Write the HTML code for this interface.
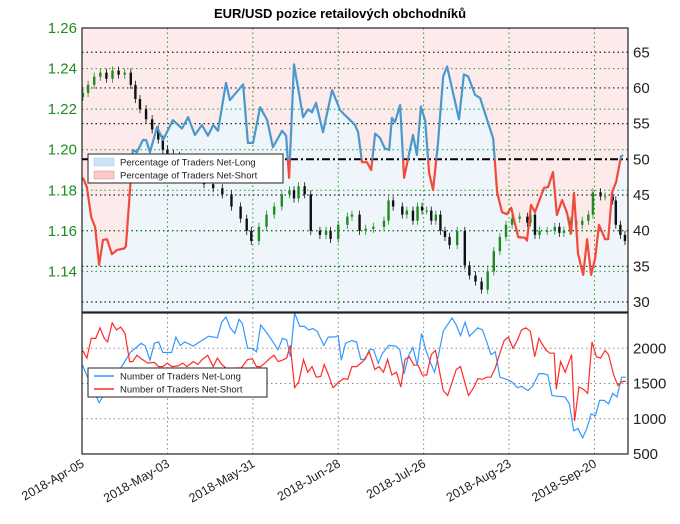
<!DOCTYPE html>
<html><head><meta charset="utf-8"><style>
body{margin:0;background:#fff;}
svg text{font-family:"Liberation Sans","DejaVu Sans",sans-serif;}
</style></head><body>
<svg id="c" width="680" height="519" viewBox="0 0 680 519"></svg>
<script>
// ---- data ----
const pctDays=[0.3,1.6,3,4.3,5.6,6.9,8.2,9.8,11.5,13.8,14.4,16.7,18,20,21,22.3,24.6,26.6,29.8,32.8,34.8,37,39.3,41.3,43,44.6,47.2,48.5,52.8,54.4,56.1,58.4,60.7,62.6,65.6,66.9,67.9,69.5,72.5,74.1,75.4,76.7,79,82,84.6,86.2,87.9,89.5,90.5,91.8,93.4,94.8,96.1,97.7,99.3,100.7,101.6,102.6,104.3,105.6,108.5,109.8,111.1,112.5,113.8,115.1,116.7,118.4,119.7,123.6,125.2,126.6,128.9,130.5,134.8,136.1,137.7,139.3,140.7,143,145.2,145.9,147.2,148.5,151.5,152.8,154.4,155.7,157.4,159,160.3,161.3,162.6,164.3,165.6,166.9,168.2,169.5,171.5,172.5,173.8,175.1,176.7,177.4];
const pctLong=[47.4,46.1,41.9,40.5,35.2,38.7,38.8,36.7,37.3,37.5,37.8,51.3,51,52.7,52.7,51,54.5,52.7,55.5,54.3,55.9,53.4,54.8,53.3,54.8,54,60.7,58.3,60.5,52.3,52.3,57.3,55.5,51.7,54,53.3,47.4,63.3,55.9,57,56.6,57.9,53.8,59.7,56.9,56.2,55.5,54.8,53.8,49.6,49.6,48.5,53.6,53,51.5,51.3,55.8,55.2,57.6,47.4,53.4,50.6,57.4,55.4,48.1,45.7,52.3,61.6,63,55.6,61.9,61.6,59,58.6,52.9,45.4,42.6,42.3,43.2,39.1,39,38.6,43.6,42.6,46,46.1,48.2,42.2,44.3,42.5,39.6,45.3,36.8,33.8,38.8,33.8,36.1,40.8,38.8,38.8,45.4,46.8,50.4,50.6];
const priceDays=[0.3,2,4,6,8,10,12,14,16,17.5,19,21,23,25,26.5,28,30,32,34,37,40,43,46,49,52,54,55.5,58,60.5,63,65.5,68,69.5,71,73,75,78,80,81.5,84,87,88.5,91,93,95.5,99,100.5,102,105,106.5,108.5,110,111.5,113,114.5,116,117.5,119,120.5,123,125.5,127,129,131,133,135,137,139,141,143.5,146,147,148.5,150,152.5,155,156.5,158,160,162,164,166,167.5,170,171.5,174,175,176.5,178];
const priceClose=[1.228,1.232,1.236,1.238,1.235,1.239,1.237,1.238,1.232,1.225,1.220,1.215,1.210,1.205,1.200,1.198,1.197,1.195,1.192,1.188,1.183,1.181,1.178,1.172,1.166,1.160,1.155,1.162,1.168,1.172,1.178,1.180,1.176,1.182,1.178,1.160,1.158,1.160,1.156,1.163,1.167,1.168,1.160,1.161,1.162,1.165,1.175,1.172,1.168,1.170,1.165,1.172,1.170,1.170,1.165,1.168,1.160,1.157,1.153,1.160,1.143,1.138,1.135,1.131,1.140,1.150,1.157,1.163,1.166,1.167,1.164,1.168,1.158,1.160,1.160,1.162,1.159,1.160,1.165,1.163,1.165,1.168,1.179,1.177,1.177,1.175,1.163,1.158,1.155];
const longDays=[0.2,1.6,5.6,15.9,19.4,20.8,22.3,23.7,25.1,26.5,29.4,30.8,32.2,33.7,36.5,38.6,41.5,44.4,45.8,47.2,48.6,50.1,51.5,52.6,54.3,55.8,57.2,58.6,60.7,62.9,64.3,65.7,67.1,68.3,69.7,71.4,72.9,74.3,75.7,77.1,79.3,80.7,82.8,84,85,86.4,88.5,90,91.4,92.8,94.2,95.6,97.1,98.5,100.6,102.8,104.2,105.6,107.1,108.5,109.9,111.3,112.7,114.2,115.6,117,118.4,121.3,122.7,124.1,125.6,127,129.8,131.3,132.7,134.1,135.5,137,138.4,139.8,141.3,142.7,144.1,146.2,147.7,149.8,151.2,152.7,154.1,155.5,158.4,159.8,161.2,162.6,164.1,165.5,166.9,168.3,169.7,171.2,172.6,174,175.4,176.9,178.3];
const longCount=[1757,1614,1229,1943,2070,2030,1830,2070,2090,1940,1940,2160,2040,2090,2030,2090,2170,2150,2370,2443,2290,2210,2410,2350,2000,2000,1950,2330,2210,2070,1980,2140,2120,1880,2500,2310,2310,2260,2280,2240,2040,2160,2160,2180,1830,2070,2110,2090,1840,1840,1980,1980,1786,1930,2040,2030,1980,1640,1900,2010,1757,2210,1980,1800,1660,1930,2240,2430,2330,2180,2370,2170,2290,2260,2090,1910,1950,1590,1570,1550,1510,1440,1460,1400,1460,1640,1640,1620,1330,1320,1310,1210,830,860,730,860,1070,1040,1260,1260,1210,1360,1310,1590,1590];
const shortDays=[0.2,1.6,3,4.5,5.9,7.3,8.4,9.9,11.3,12.7,14.1,15.6,16.6,18,19.4,21.6,23.7,25.1,26.5,28,29.4,31.5,33,34.4,36.5,38,39.4,41.2,43,44.4,45.8,47.2,48.6,50.1,52.2,54.3,55.8,57.2,58.6,60,61.4,62.9,64.3,65.7,67.1,68.3,69.7,71.1,72.6,74,75.4,76.8,78.3,79.4,80.8,82.3,83.7,85.7,87.1,88.5,90,92.1,94.2,96,97.4,98.8,100.2,101.6,103.1,104.5,105.9,107.3,108.8,110.2,111.6,113,114.5,115.9,118.4,119.9,122.7,124.1,125.6,126.7,128.4,129.8,131.3,132.7,134.1,135.5,137,138.4,139.8,141.3,142.7,144.1,145.5,147,148.4,149.8,152,153.4,154.8,155.5,156.9,158.4,160.5,161.5,162.9,164.3,165.8,167.2,168.6,170,171.5,172.6,174.3,175.7,177.2,178.3];
const shortCount=[1970,1860,2140,2140,2290,2140,2090,2360,2260,2300,2210,1810,1810,1900,1850,1790,1800,1740,1740,1790,1740,1750,1790,1740,1810,1770,1840,1900,1740,1860,1770,1720,1700,1720,1720,1840,1850,1740,1740,1790,1850,1900,1810,1830,1860,2040,1440,1530,1840,1660,1740,1590,1600,1770,1620,1440,1500,1570,1560,1740,1740,1810,1950,1700,1740,1660,1840,1620,1660,1450,1840,1880,1760,1760,1620,1620,1910,1970,1400,1330,1700,1740,1500,1330,1440,1570,1560,1590,1590,1720,1930,2110,2160,2000,2110,2260,2290,2240,1880,2140,1980,1930,1930,1420,1810,1660,1910,970,1450,1420,1360,2090,1880,1860,1970,1910,1620,1470,1530,1530];
const dateLabels=["2018-Apr-05","2018-May-03","2018-May-31","2018-Jun-28","2018-Jul-26","2018-Aug-23","2018-Sep-20"];
const dateTickDays=[0,28,56,84,112,140,168];
const priceTicks=[1.14,1.16,1.18,1.20,1.22,1.24,1.26];
const pctTicks=[30,35,40,45,50,55,60,65];
const countTicks=[500,1000,1500,2000];

// ---- layout ----
const L=82,R=628,T1=28,B1=312,T2=313,B2=454;
const X=d=>L+(d/179)*(R-L);
const YP=p=>T1+(1.26-p)/(1.26-1.12)*(B1-T1);
const YQ=v=>T1+(68.4-v)/(68.4-28.6)*(B1-T1);
const YC=v=>T2+(2500-v)/(2500-500)*(B2-T2);
const NS="http://www.w3.org/2000/svg";
const svg=document.getElementById('c');
function mk(tag,attrs,parent){const e=document.createElementNS(NS,tag);for(const k in attrs)e.setAttribute(k,attrs[k]);(parent||svg).appendChild(e);return e;}
function pts(xs,ys,fx,fy){return xs.map((d,i)=>fx(d).toFixed(1)+','+fy(ys[i]).toFixed(1)).join(' ');}

const defs=mk('defs',{});
const c1=mk('clipPath',{id:'top'},defs);mk('rect',{x:L,y:T1,width:R-L,height:B1-T1},c1);
const c2=mk('clipPath',{id:'above'},defs);mk('rect',{x:L,y:T1,width:R-L,height:YQ(50)-T1},c2);
const c3=mk('clipPath',{id:'below'},defs);mk('rect',{x:L,y:YQ(50),width:R-L,height:B1-YQ(50)},c3);
const c4=mk('clipPath',{id:'bot'},defs);mk('rect',{x:L,y:T2,width:R-L,height:B2-T2},c4);

let t=mk('text',{x:340,y:18,'text-anchor':'middle','font-size':13,'font-weight':'bold',fill:'#000'});t.textContent='EUR/USD pozice retailových obchodníků';



// fills
const lp=pts(pctDays,pctLong,X,YQ);
let g=mk('g',{'clip-path':'url(#top)'});


mk('rect',{x:L,y:T1,width:R-L,height:B1-T1,fill:'#fdeaea'},g);
mk('polygon',{points:L+','+B1+' '+L+','+YQ(pctLong[0])+' '+lp+' '+R+','+YQ(pctLong[pctLong.length-1])+' '+R+','+B1,fill:'#eef5fb'},g);

// grids
const gg=mk('g',{});


pctTicks.forEach(v=>{if(v!==50)mk('line',{x1:L,x2:R,y1:YQ(v),y2:YQ(v),stroke:'#222','stroke-width':1.2,'stroke-dasharray':'1.5,3'},gg);});
priceTicks.forEach(v=>{mk('line',{x1:L,x2:R,y1:YP(v),y2:YP(v),stroke:'#2a9a2a','stroke-width':1,'stroke-dasharray':'1.5,3'},gg);});
dateTickDays.forEach(d=>{mk('line',{x1:X(d),x2:X(d),y1:T1,y2:B1,stroke:'#2a9a2a','stroke-width':1,'stroke-dasharray':'1.5,3'},gg);
 mk('line',{x1:X(d),x2:X(d),y1:T2,y2:B2,stroke:'#888','stroke-width':1,'stroke-dasharray':'1.5,3'},gg);});
[1000,1500,2000].forEach(v=>mk('line',{x1:L,x2:R,y1:YC(v),y2:YC(v),stroke:'#888','stroke-width':1,'stroke-dasharray':'1.5,3'},gg));

// candles
const cg=mk('g',{'clip-path':'url(#top)'});


priceClose.forEach((c,i)=>{const o=i?priceClose[i-1]:c-0.002;const up=c>=o;const col=up?'#1e8c1e':'#111';const x=X(priceDays[i]);
 const hi=Math.max(o,c)+0.002,lo=Math.min(o,c)-0.002;
 mk('line',{x1:x,x2:x,y1:YP(hi),y2:YP(lo),stroke:col,'stroke-width':0.8},cg);
 mk('rect',{x:x-1.2,y:YP(Math.max(o,c)),width:2.4,height:Math.max(1,YP(Math.min(o,c))-YP(Math.max(o,c))),fill:col},cg);});

let fl=mk('line',{x1:L,x2:R,y1:YQ(50),y2:YQ(50),stroke:'#000','stroke-width':2,'stroke-dasharray':'8,3,2,3'});



let pb=mk('polyline',{points:lp,fill:'none',stroke:'#4a98cc','stroke-width':2.2,'clip-path':'url(#above)','stroke-linejoin':'round'});


let pr=mk('polyline',{points:lp,fill:'none',stroke:'#f04a3a','stroke-width':2.2,'clip-path':'url(#below)','stroke-linejoin':'round'});



let bl=mk('polyline',{points:pts(longDays,longCount,X,YC),fill:'none',stroke:'#3399ff','stroke-width':1.2,'clip-path':'url(#bot)'});


let br=mk('polyline',{points:pts(shortDays,shortCount,X,YC),fill:'none',stroke:'#ff2a2a','stroke-width':1.2,'clip-path':'url(#bot)'});



mk('rect',{x:L,y:T1,width:R-L,height:B1-T1,fill:'none',stroke:'#222','stroke-width':1.2});
mk('rect',{x:L,y:T2,width:R-L,height:B2-T2,fill:'none',stroke:'#222','stroke-width':1.2});

priceTicks.forEach(v=>{const e=mk('text',{x:77,y:YP(v)+5,'text-anchor':'end','font-size':15,fill:'#1e8c1e'});e.textContent=v.toFixed(2);
 
 });
pctTicks.forEach(v=>{const e=mk('text',{x:633,y:YQ(v)+5,'font-size':15,fill:'#222'});e.textContent=v;
 
 });
countTicks.forEach(v=>{const e=mk('text',{x:633,y:YC(v)+5,'font-size':15,fill:'#222'});e.textContent=v;
 
 });
dateLabels.forEach((s,i)=>{const x=X(dateTickDays[i]);const e=mk('text',{x:x+3,y:466,'text-anchor':'end','font-size':12.5,fill:'#222',transform:'rotate(-30 '+(x+3)+' 466)'});e.textContent=s;
 
 });

function legend(x,y,w,items,type,name){const lg=mk('g',{});
 
 
 mk('rect',{x:x,y:y,width:w,height:29,fill:'#fff',stroke:'#222','stroke-width':1},lg);
 items.forEach((it,i)=>{const yy=y+8+i*13;
  if(type==='patch')mk('rect',{x:x+6,y:yy-4,width:20,height:8,fill:it[1],stroke:it[2],'stroke-width':0.6},lg);
  else mk('line',{x1:x+6,x2:x+26,y1:yy,y2:yy,stroke:it[1],'stroke-width':1.5},lg);
  const e=mk('text',{x:x+32,y:yy+3.5,'font-size':9.5,fill:'#222'},lg);e.textContent=it[0];});}
legend(88,154,195,[['Percentage of Traders Net-Long','#cfe3f7','#a9cdee'],['Percentage of Traders Net-Short','#f9c9c9','#f09a9a']],'patch','percent-legend');
legend(88,368,179,[['Number of Traders Net-Long','#3399ff'],['Number of Traders Net-Short','#ff2a2a']],'line','count-legend');
</script>
</body></html>
